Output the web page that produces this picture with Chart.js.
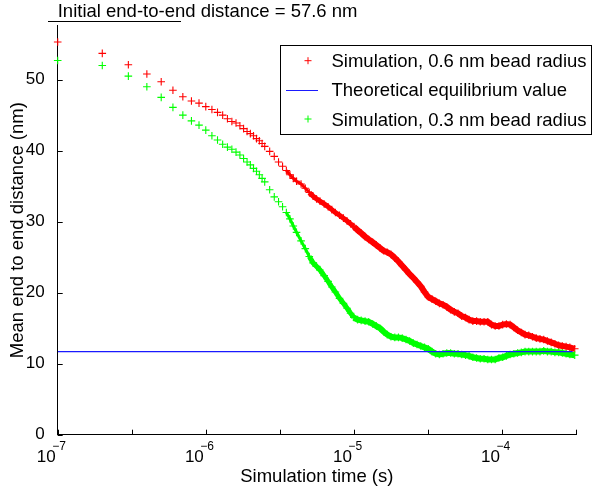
<!DOCTYPE html>
<html>
<head>
<meta charset="utf-8">
<script src="https://cdn.jsdelivr.net/npm/chart.js@4.4.1/dist/chart.umd.min.js"></script>
<style>
  html, body { margin: 0; padding: 0; background: #fff; }
  #wrap { width: 595px; height: 493px; }
</style>
</head>
<body>
<div id="wrap"><canvas id="chart" width="595" height="493"></canvas></div>
<script>
// simulation time (s)
const times = [
  1e-7, 2e-7, 3e-7, 4e-7, 5e-7, 6e-7, 7e-7, 8e-7, 9e-7,
  1.0e-6, 1.1e-6, 1.2e-6, 1.3e-6, 1.4e-6, 1.5e-6, 1.6e-6, 1.7e-6, 1.8e-6, 1.9e-6,
  2.0e-6, 2.1e-6, 2.2e-6, 2.3e-6, 2.4e-6, 2.5e-6, 2.7e-6, 2.9e-6, 3.1e-6, 3.3e-6,
  3.5e-6, 3.7e-6, 3.9e-6, 4.1e-6, 4.4e-6, 4.7e-6, 5.0e-6, 5.3e-6, 5.6e-6, 5.9e-6,
  6.3e-6, 6.7e-6, 7.1e-6, 7.5e-6, 8.0e-6, 8.5e-6, 9.0e-6, 9.5e-6,
  1.00e-5, 1.06e-5, 1.12e-5, 1.19e-5, 1.26e-5, 1.34e-5, 1.42e-5, 1.50e-5, 1.59e-5,
  1.68e-5, 1.78e-5, 1.89e-5, 2.00e-5, 2.12e-5, 2.25e-5, 2.38e-5, 2.52e-5, 2.67e-5,
  2.83e-5, 3.00e-5, 3.18e-5, 3.37e-5, 3.57e-5, 3.78e-5, 4.00e-5, 4.24e-5, 4.50e-5,
  4.77e-5, 5.05e-5, 5.35e-5, 5.67e-5, 6.00e-5, 6.36e-5, 6.74e-5, 7.14e-5, 7.57e-5,
  8.02e-5, 8.50e-5, 9.00e-5, 9.54e-5,
  1.011e-4, 1.071e-4, 1.135e-4, 1.203e-4, 1.275e-4, 1.351e-4, 1.432e-4, 1.517e-4,
  1.608e-4, 1.704e-4, 1.806e-4, 1.914e-4, 2.028e-4, 2.150e-4, 2.278e-4, 2.414e-4,
  2.558e-4, 2.711e-4, 2.873e-4, 3.100e-4
];

// mean end to end distance (nm), 0.6 nm bead radius
const bead06 = [
  55.3, 53.7, 52.1, 50.8, 49.7, 48.5, 47.6, 47.0, 46.7,
  46.2, 45.8, 45.4, 45.0, 44.5, 44.1, 43.9, 43.5, 43.1, 42.7,
  42.4, 42.1, 41.7, 41.4, 41.0, 40.6, 39.9, 39.2, 38.4, 37.8,
  37.2, 36.6, 36.1, 35.7, 35.3, 34.7, 34.1, 33.6, 33.2, 32.9,
  32.5, 32.1, 31.7, 31.3, 30.9, 30.5, 30.1, 29.7,
  29.3, 28.8, 28.4, 27.9, 27.5, 27.1, 26.7, 26.3, 25.9,
  25.7, 25.4, 24.9, 24.4, 23.8, 23.2, 22.6, 22.1, 21.5,
  20.9, 20.1, 19.4, 19.1, 18.8, 18.5, 18.3, 18.0, 17.6,
  17.3, 17.1, 16.7, 16.5, 16.2, 16.0, 16.0, 15.9, 15.9,
  15.9, 15.5, 15.3, 15.3,
  15.5, 15.6, 15.5, 15.1, 14.7, 14.4, 14.1, 14.0,
  13.8, 13.6, 13.5, 13.4, 13.2, 13.0, 12.8, 12.6,
  12.5, 12.4, 12.3, 12.1
];

// mean end to end distance (nm), 0.3 nm bead radius
const bead03 = [
  52.7, 52.0, 50.5, 49.0, 47.5, 46.1, 45.0, 44.2, 43.6,
  42.9, 42.1, 41.5, 40.9, 40.5, 40.2, 39.8, 39.4, 38.9, 38.4,
  38.0, 37.5, 37.1, 36.6, 36.1, 35.6, 34.5, 33.5, 32.8, 32.1,
  31.3, 30.4, 29.4, 28.5, 27.3, 26.2, 25.1, 24.2, 23.7, 23.2,
  22.4, 21.6, 20.8, 20.1, 19.2, 18.5, 17.8, 17.1,
  16.5, 16.2, 16.1, 16.0, 15.9, 15.6, 15.3, 15.0, 14.5,
  14.1, 13.8, 13.7, 13.7, 13.6, 13.4, 13.2, 12.9, 12.7,
  12.5, 12.3, 12.1, 11.7, 11.4, 11.3, 11.4, 11.5, 11.5,
  11.4, 11.4, 11.3, 11.2, 11.1, 10.9, 10.8, 10.7, 10.7,
  10.6, 10.6, 10.6, 10.8,
  10.9, 11.1, 11.3, 11.4, 11.5, 11.6, 11.7, 11.7,
  11.7, 11.7, 11.7, 11.8, 11.7, 11.7, 11.6, 11.6,
  11.5, 11.4, 11.3, 11.2
];

// theoretical equilibrium value
const equilibriumTimes = [1e-7, 3.0e-4];
const equilibriumValues = [11.7, 11.7];

const yTicks = [0, 10, 20, 30, 40, 50];
const xTicks = [1e-7, 3.1623e-7, 1e-6, 3.1623e-6, 1e-5, 3.1623e-5, 1e-4, 3.1623e-4];
const xTickExponents = ["\u22127", "", "\u22126", "", "\u22125", "", "\u22124", ""];

const FONT = '"Liberation Sans", Arial, Helvetica, sans-serif';

const pairs = (xs, ys) => xs.map((x, i) => ({ x: x, y: ys[i] }));

// the markers get so dense on the log axis that they merge into a band;
// a thick segment behind them fills that band in
function bandWidth(t) {
  if (t < 3.5e-6) return 0;
  if (t < 5.0e-6) return 3;
  if (t < 1.0e-5) return 5;
  return 6;
}

function markerSeries(label, values, color, order) {
  return {
    label: label,
    data: pairs(times, values),
    isMarker: true,
    markerColor: color,
    showLine: true,
    borderWidth: 5,
    borderColor: color,
    segment: {
      borderColor: (c) => (bandWidth(c.p0.parsed.x) > 0 ? color : "rgba(0,0,0,0)"),
      borderWidth: (c) => bandWidth(c.p0.parsed.x) || 1,
    },
    pointStyle: "cross",
    pointRadius: 3.8,
    pointBorderWidth: 1.1,
    pointBorderColor: color,
    pointBackgroundColor: color,
    order: order,
    clip: false,
  };
}

// MATLAB style: inward ticks, superscript tick labels, title with rule, boxed legend
const matlabAxes = {
  id: "matlabAxes",
  afterDraw(chart) {
    const { ctx, chartArea: a } = chart;
    const xs = chart.scales.x;
    const ys = chart.scales.y;
    ctx.save();

    // inward tick marks
    ctx.strokeStyle = "#000";
    ctx.lineWidth = 1;
    ctx.beginPath();
    xTicks.forEach((v) => {
      const px = Math.round(xs.getPixelForValue(v)) + 0.5;
      ctx.moveTo(px, a.bottom);
      ctx.lineTo(px, a.bottom - 5);
    });
    yTicks.forEach((v) => {
      const py = Math.round(ys.getPixelForValue(v)) + 0.5;
      ctx.moveTo(a.left, py);
      ctx.lineTo(a.left + 5, py);
    });
    ctx.stroke();

    // x tick labels 10^n
    ctx.fillStyle = "#000";
    xTicks.forEach((v, i) => {
      if (!xTickExponents[i]) return;
      const px = xs.getPixelForValue(v);
      ctx.font = "17px " + FONT;
      ctx.textAlign = "right";
      ctx.textBaseline = "alphabetic";
      ctx.fillText("10", px - 2, a.bottom + 27);
      ctx.font = "12px " + FONT;
      ctx.textAlign = "left";
      ctx.fillText(xTickExponents[i], px - 5.5, a.bottom + 15.5);
    });

    // title with rule underneath
    ctx.font = "18.5px " + FONT;
    ctx.textAlign = "left";
    ctx.textBaseline = "alphabetic";
    ctx.fillText("Initial end-to-end distance = 57.6 nm", a.left, 16.7);
    ctx.beginPath();
    ctx.moveTo(48, 21.5);
    ctx.lineTo(181, 21.5);
    ctx.stroke();

    // legend box
    const box = { left: 280.5, top: 45.5, right: 591.5, bottom: 134.5 };
    ctx.fillStyle = "#fff";
    ctx.fillRect(box.left, box.top, box.right - box.left, box.bottom - box.top);
    ctx.strokeStyle = "#000";
    ctx.strokeRect(box.left, box.top, box.right - box.left, box.bottom - box.top);

    const rows = [60.7, 89.5, 119];
    chart.data.datasets.forEach((ds, i) => {
      const cy = rows[i];
      ctx.lineWidth = 1;
      ctx.beginPath();
      if (ds.isMarker) {
        ctx.strokeStyle = ds.markerColor;
        ctx.moveTo(308 - 3.5, cy);
        ctx.lineTo(308 + 3.5, cy);
        ctx.moveTo(308, cy - 3.5);
        ctx.lineTo(308, cy + 3.5);
      } else {
        ctx.strokeStyle = ds.borderColor;
        ctx.moveTo(286, Math.round(cy) + 0.5);
        ctx.lineTo(318, Math.round(cy) + 0.5);
      }
      ctx.stroke();
      ctx.fillStyle = "#000";
      ctx.font = "18.5px " + FONT;
      ctx.textAlign = "left";
      ctx.textBaseline = "alphabetic";
      ctx.fillText(ds.label, 331.5, cy + 6.6);
    });

    ctx.restore();
  },
};

new Chart(document.getElementById("chart"), {
  type: "line",
  data: {
    datasets: [
      markerSeries("Simulation, 0.6 nm bead radius", bead06, "#ff0000", 2),
      {
        label: "Theoretical equilibrium value",
        data: pairs(equilibriumTimes, equilibriumValues),
        borderColor: "#1a1aff",
        borderWidth: 1.4,
        pointRadius: 0,
        order: 0,
      },
      markerSeries("Simulation, 0.3 nm bead radius", bead03, "#00ff00", 1),
    ],
  },
  options: {
    responsive: false,
    animation: false,
    events: [],
    layout: { padding: { top: 25.7, right: 19, left: 0, bottom: 0 } },
    plugins: {
      legend: { display: false },
      tooltip: { enabled: false },
    },
    scales: {
      x: {
        type: "logarithmic",
        min: 1e-7,
        max: 3.1623e-4,
        grid: { display: false },
        border: { display: true, color: "#000", width: 1 },
        ticks: { display: false },
        afterBuildTicks: (scale) => {
          scale.ticks = xTicks.map((v) => ({ value: v }));
        },
        afterFit: (scale) => {
          scale.height = 58.3;
        },
        title: {
          display: true,
          text: "Simulation time (s)",
          color: "#000",
          font: { family: FONT, size: 18.5 },
          padding: { top: 0, bottom: 5 },
        },
      },
      y: {
        min: 0,
        max: 57.6,
        grid: { display: false },
        border: { display: true, color: "#000", width: 1 },
        afterBuildTicks: (scale) => {
          scale.ticks = yTicks.map((v) => ({ value: v }));
        },
        afterFit: (scale) => {
          scale.width = 57.7;
        },
        ticks: {
          color: "#000",
          padding: 5,
          font: { family: FONT, size: 17 },
        },
        title: {
          display: true,
          text: "Mean end to end distance (nm)",
          color: "#000",
          font: { family: FONT, size: 18.5 },
          padding: { top: 7, bottom: 0 },
        },
      },
    },
  },
  plugins: [matlabAxes],
});
</script>
</body>
</html>
